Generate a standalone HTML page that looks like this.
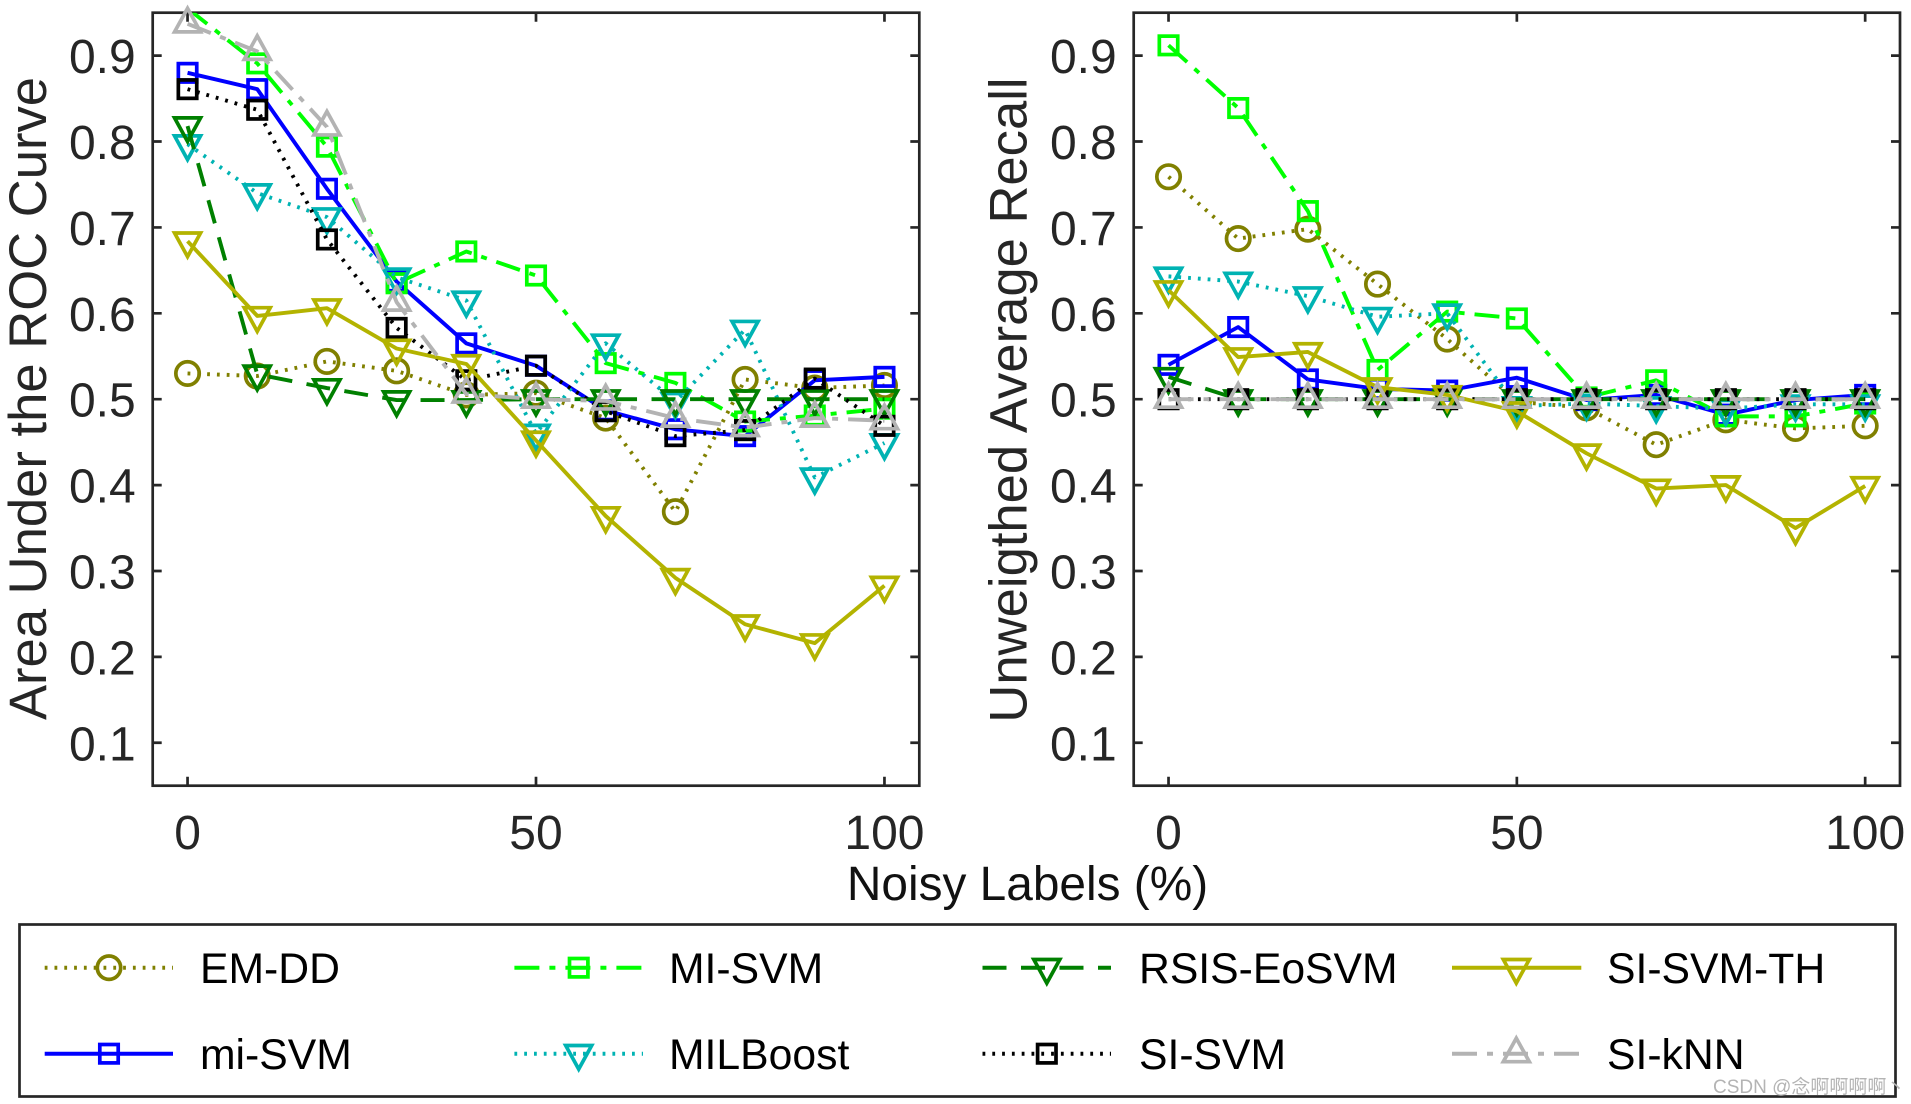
<!DOCTYPE html>
<html lang="en">
<head>
<meta charset="utf-8">
<title>Noisy label performance comparison</title>
<style>
  html, body { margin: 0; padding: 0; background: #fff; }
  svg { display: block; }
  text { font-family: "Liberation Sans", "Noto Sans CJK SC", sans-serif; }
  .tick-label { font-size: 48px; fill: #262626; }
  .axis-title { font-size: 52.6px; fill: #262626; }
  .legend-label { font-size: 42.7px; fill: #000; }
</style>
</head>
<body>
<svg id="chart" xmlns="http://www.w3.org/2000/svg" width="1911" height="1104" viewBox="0 0 1911 1104">
  <rect x="0" y="0" width="1911" height="1104" fill="#fff"/>
  <g id="left-panel"></g>
  <g id="right-panel"></g>
  <text class="axis-title" text-anchor="middle" transform="translate(46 398.5) rotate(-90)">Area Under the ROC Curve</text>
  <text class="axis-title" text-anchor="middle" transform="translate(1026.5 400) rotate(-90)">Unweigthed Average Recall</text>
  <text x="1027.5" y="900" text-anchor="middle" font-size="47.8" fill="#111">Noisy Labels (%)</text>
  <rect x="19.5" y="924.5" width="1876" height="172" fill="#fff" stroke="#262626" stroke-width="2.7"/>
  <g id="legend-keys"></g>
  <text class="legend-label" x="200" y="983">EM-DD</text>
  <text class="legend-label" x="200" y="1069">mi-SVM</text>
  <text class="legend-label" x="669" y="983">MI-SVM</text>
  <text class="legend-label" x="669" y="1069">MILBoost</text>
  <text class="legend-label" x="1139" y="983">RSIS-EoSVM</text>
  <text class="legend-label" x="1139" y="1069">SI-SVM</text>
  <text class="legend-label" x="1607" y="983">SI-SVM-TH</text>
  <text class="legend-label" x="1607" y="1069">SI-kNN</text>
  <text x="1713" y="1093" font-size="19" fill="#b4b4b4">CSDN @念啊啊啊啊丶</text>
</svg>
<script>
// ---------- data ----------
const noiseLevels = [0, 10, 20, 30, 40, 50, 60, 70, 80, 90, 100];
const xTickLabels = [0, 50, 100];
const yTickLabels = [0.1, 0.2, 0.3, 0.4, 0.5, 0.6, 0.7, 0.8, 0.9];

const aucEmDd    = [0.530, 0.527, 0.544, 0.533, 0.505, 0.507, 0.478, 0.369, 0.523, 0.513, 0.516];
const aucMiLower = [0.880, 0.861, 0.745, 0.637, 0.565, 0.539, 0.487, 0.465, 0.457, 0.522, 0.526];
const aucMiUpper = [0.955, 0.891, 0.794, 0.635, 0.672, 0.644, 0.542, 0.519, 0.474, 0.481, 0.489];
const aucMilBoost = [0.797, 0.740, 0.712, 0.642, 0.615, 0.460, 0.565, 0.497, 0.581, 0.409, 0.449];
const aucRsis    = [0.818, 0.529, 0.513, 0.499, 0.499, 0.500, 0.500, 0.500, 0.500, 0.500, 0.500];
const aucSiSvm   = [0.861, 0.837, 0.686, 0.583, 0.522, 0.539, 0.486, 0.457, 0.464, 0.524, 0.469];
const aucSiSvmTh = [0.684, 0.597, 0.606, 0.559, 0.541, 0.452, 0.364, 0.292, 0.238, 0.216, 0.283];
const aucSiKnn   = [0.937, 0.905, 0.817, 0.613, 0.506, 0.500, 0.498, 0.478, 0.467, 0.478, 0.475];

const uarEmDd    = [0.759, 0.687, 0.698, 0.634, 0.570, 0.497, 0.490, 0.447, 0.476, 0.466, 0.469];
const uarMiLower = [0.540, 0.584, 0.523, 0.512, 0.510, 0.525, 0.499, 0.505, 0.482, 0.499, 0.505];
const uarMiUpper = [0.912, 0.839, 0.719, 0.534, 0.602, 0.594, 0.502, 0.522, 0.480, 0.480, 0.495];
const uarMilBoost = [0.643, 0.637, 0.620, 0.596, 0.600, 0.492, 0.495, 0.492, 0.489, 0.494, 0.494];
const uarRsis    = [0.526, 0.500, 0.500, 0.500, 0.500, 0.500, 0.500, 0.500, 0.500, 0.500, 0.500];
const uarSiSvm   = [0.500, 0.500, 0.500, 0.500, 0.500, 0.500, 0.500, 0.500, 0.500, 0.500, 0.500];
const uarSiSvmTh = [0.627, 0.549, 0.555, 0.514, 0.505, 0.486, 0.437, 0.396, 0.400, 0.350, 0.399];
const uarSiKnn   = [0.500, 0.500, 0.500, 0.500, 0.500, 0.500, 0.500, 0.500, 0.500, 0.500, 0.500];

const seriesKeys = ['em-dd', 'mi-svm-lower', 'mi-svm-upper', 'milboost', 'rsis-eosvm', 'si-svm', 'si-svm-th', 'si-knn'];
const aucSeries = [aucEmDd, aucMiLower, aucMiUpper, aucMilBoost, aucRsis, aucSiSvm, aucSiSvmTh, aucSiKnn];
const uarSeries = [uarEmDd, uarMiLower, uarMiUpper, uarMilBoost, uarRsis, uarSiSvm, uarSiSvmTh, uarSiKnn];

// ---------- styling & layout ----------
const DOT = '2.8 7';
const DASH = '24 14.5';
const DASHDOT = '25 10 6 10';
const looks = [
  { color: '#808000', dash: DOT, marker: 'circle' },
  { color: '#0000ff', dash: '', marker: 'square' },
  { color: '#00ff00', dash: DASHDOT, marker: 'square' },
  { color: '#00b3b3', dash: DOT, marker: 'down' },
  { color: '#008000', dash: DASH, marker: 'down' },
  { color: '#000000', dash: DOT, marker: 'square' },
  { color: '#b3b300', dash: '', marker: 'down' },
  { color: '#b3b3b3', dash: DASHDOT, marker: 'up' }
];
const legendSlots = [
  { x1: 44.7, x2: 173, mx: 109, y: 967.7 },
  { x1: 44.7, x2: 173, mx: 109, y: 1053.7 },
  { x1: 514.4, x2: 643, mx: 578.7, y: 967.7 },
  { x1: 514.4, x2: 643, mx: 578.7, y: 1053.7 },
  { x1: 982.5, x2: 1111, mx: 1046.8, y: 967.7 },
  { x1: 982.5, x2: 1111, mx: 1046.8, y: 1053.7 },
  { x1: 1452, x2: 1581.3, mx: 1516.3, y: 967.7 },
  { x1: 1452, x2: 1581.3, mx: 1516.3, y: 1053.7 }
];

const NS = 'http://www.w3.org/2000/svg';
const AXIS = '#262626';
const PLOT_TOP = 12.7;
const PLOT_BOTTOM = 785.7;
const Y_MIN = 0.05;
const Y_MAX = 0.95;
const X_MIN = -5;
const X_MAX = 105;
const TICK = 9;
const MARKER_STROKE = 3.7;
const LINE_STROKE = 3.9;

function set(el, props) {
  for (const k in props) el.setAttribute(k, props[k]);
  return el;
}

function drawMarker(parent, kind, cx, cy, color, name) {
  let m;
  if (kind === 'circle') {
    m = document.createElementNS(NS, 'circle');
    set(m, { cx: cx, cy: cy, r: 11.7 });
  } else if (kind === 'square') {
    m = document.createElementNS(NS, 'rect');
    set(m, { x: cx - 9.2, y: cy - 9.2, width: 18.4, height: 18.4 });
  } else if (kind === 'down') {
    m = document.createElementNS(NS, 'polygon');
    set(m, { points: (cx - 13) + ',' + (cy - 8.2) + ' ' + (cx + 13) + ',' + (cy - 8.2) + ' ' + cx + ',' + (cy + 15.5) });
  } else {
    m = document.createElementNS(NS, 'polygon');
    set(m, { points: (cx - 13) + ',' + (cy + 8) + ' ' + (cx + 13) + ',' + (cy + 8) + ' ' + cx + ',' + (cy - 15.5) });
  }
  set(m, { fill: 'none', stroke: color, 'stroke-width': MARKER_STROKE, 'stroke-linejoin': 'miter', 'stroke-miterlimit': 10 });
  
  
  parent.appendChild(m);
}

function drawPanel(panelId, left, right, seriesList, prefix) {
  const root = document.getElementById(panelId);
  // axis functions
  const xScale = function (v) { return left + (v - X_MIN) / (X_MAX - X_MIN) * (right - left); };
  const yScale = function (v) { return PLOT_BOTTOM - (v - Y_MIN) / (Y_MAX - Y_MIN) * (PLOT_BOTTOM - PLOT_TOP); };

  const clip = document.createElementNS(NS, 'clipPath');
  clip.setAttribute('id', prefix + '-clip');
  const clipRect = document.createElementNS(NS, 'rect');
  set(clipRect, { x: left, y: PLOT_TOP, width: right - left, height: PLOT_BOTTOM - PLOT_TOP });
  clip.appendChild(clipRect);
  root.appendChild(clip);

  const box = document.createElementNS(NS, 'rect');
  set(box, { x: left, y: PLOT_TOP, width: right - left, height: PLOT_BOTTOM - PLOT_TOP, fill: 'none', stroke: AXIS, 'stroke-width': 2.7 });
  
  
  root.appendChild(box);

  yTickLabels.forEach(function (t) {
    const y = yScale(t);
    const path = document.createElementNS(NS, 'path');
    set(path, { d: 'M' + left + ' ' + y + 'h' + TICK + 'M' + right + ' ' + y + 'h' + (-TICK), stroke: AXIS, 'stroke-width': 2.7, fill: 'none' });
    
    
    root.appendChild(path);
    const label = document.createElementNS(NS, 'text');
    set(label, { x: left - 17, y: y + 17.5, 'text-anchor': 'end', class: 'tick-label' });
    
    
    label.textContent = t.toFixed(1);
    root.appendChild(label);
  });

  xTickLabels.forEach(function (t) {
    const x = xScale(t);
    const path = document.createElementNS(NS, 'path');
    set(path, { d: 'M' + x + ' ' + PLOT_TOP + 'v' + TICK + 'M' + x + ' ' + PLOT_BOTTOM + 'v' + (-TICK), stroke: AXIS, 'stroke-width': 2.7, fill: 'none' });
    
    
    root.appendChild(path);
    const label = document.createElementNS(NS, 'text');
    set(label, { x: x, y: 849, 'text-anchor': 'middle', class: 'tick-label' });
    
    
    label.textContent = String(t);
    root.appendChild(label);
  });

  seriesList.forEach(function (values, i) {
    const look = looks[i];
    const group = document.createElementNS(NS, 'g');
    
    
    root.appendChild(group);
    const line = document.createElementNS(NS, 'polyline');
    const pts = values.map(function (v, k) { return xScale(noiseLevels[k]) + ',' + yScale(v); }).join(' ');
    set(line, { points: pts, fill: 'none', stroke: look.color, 'stroke-width': LINE_STROKE, 'stroke-linejoin': 'round', 'clip-path': 'url(#' + prefix + '-clip)' });
    if (look.dash) line.setAttribute('stroke-dasharray', look.dash);
    
    
    group.appendChild(line);
    values.forEach(function (v, k) {
      if (v > Y_MAX || v < Y_MIN) return; // off-axis points get no marker
      drawMarker(group, look.marker, xScale(noiseLevels[k]), yScale(v), look.color, prefix + '-point-' + seriesKeys[i]);
    });
  });
}

function drawLegendKeys() {
  const root = document.getElementById('legend-keys');
  legendSlots.forEach(function (slot, i) {
    const look = looks[i];
    const line = document.createElementNS(NS, 'line');
    set(line, { x1: slot.x1, x2: slot.x2, y1: slot.y, y2: slot.y, stroke: look.color, 'stroke-width': 4 });
    if (look.dash) line.setAttribute('stroke-dasharray', look.dash);
    
    
    root.appendChild(line);
    drawMarker(root, look.marker, slot.mx, slot.y, look.color, 'legend-marker-' + seriesKeys[i]);
  });
}

drawPanel('left-panel', 152.7, 919.3, aucSeries, 'auc');
drawPanel('right-panel', 1133.7, 1900, uarSeries, 'uar');
drawLegendKeys();
</script>
</body>
</html>
